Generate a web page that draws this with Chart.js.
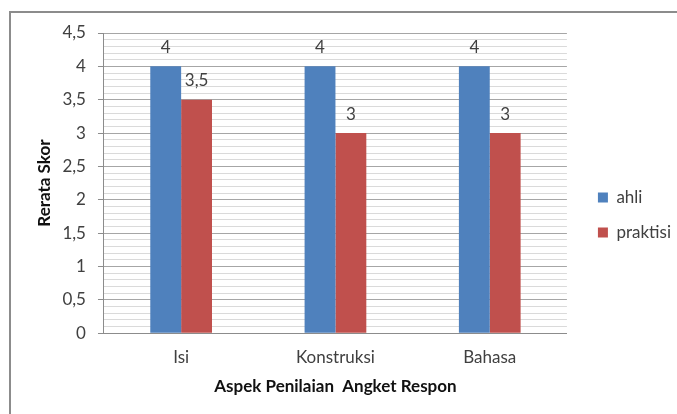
<!DOCTYPE html>
<html>
<head>
<meta charset="utf-8">
<script src="https://cdn.jsdelivr.net/npm/chart.js@4.4.1/dist/chart.umd.min.js"></script>
<style>
  html, body { margin: 0; padding: 0; background: #fff; overflow: hidden; }
  #wrap { position: relative; width: 677px; height: 414px; overflow: hidden; }
  #frame { position: absolute; left: 9px; top: 11px; width: 700px; height: 450px;
           border-left: 2px solid #8c8c8c; border-top: 2px solid #8c8c8c; box-sizing: border-box; }
  canvas { position: absolute; left: 0; top: 0; }
</style>
</head>
<body>
<div id="wrap">
  <div id="frame"></div>
  <canvas id="grafico" width="677" height="414"></canvas>
</div>
<script>
const aspek = ['Isi', 'Konstruksi', 'Bahasa'];
const skorAhli = [4, 4, 4];
const skorPraktisi = [3.5, 3, 3];
const FUENTE = 'Lato, "Open Sans", sans-serif';

function esMayor(v) { return Math.abs(v * 2 - Math.round(v * 2)) < 1e-6; }
function formato(v) { return String(Math.round(v * 10) / 10).replace('.', ','); }

const etiquetasBarras = {
    id: 'etiquetasBarras',
    afterDatasetsDraw(chart) {
        const ctx = chart.ctx;
        ctx.save();
        ctx.font = '17px ' + FUENTE;
        ctx.fillStyle = '#404040';
        ctx.textAlign = 'center';
        ctx.textBaseline = 'middle';
        chart.data.datasets.forEach((ds, i) => {
            chart.getDatasetMeta(i).data.forEach((bar, j) => {
                ctx.fillText(formato(ds.data[j]), bar.x, bar.y - 19);
            });
        });
        ctx.restore();
    }
};

new Chart(document.getElementById('grafico').getContext('2d'), {
    type: 'bar',
    data: {
        labels: aspek,
        datasets: [
            { label: 'ahli', data: skorAhli, backgroundColor: '#4F81BD' },
            { label: 'praktisi', data: skorPraktisi, backgroundColor: '#C0504D' }
        ]
    },
    options: {
        responsive: false,
        animation: false,
        layout: { padding: { left: 28, top: 33, right: -4, bottom: 17 } },
        datasets: { bar: { categoryPercentage: 0.4, barPercentage: 1 } },
        plugins: {
            tooltip: { enabled: false },
            legend: {
                position: 'right',
                labels: { boxWidth: 10, boxHeight: 10, padding: 18, color: '#404040', font: { family: FUENTE, size: 17 } }
            }
        },
        scales: {
            x: {
                grid: { display: false, drawTicks: false },
                border: { display: true, color: '#8c8c8c', width: 1 },
                ticks: { color: '#404040', padding: 14, font: { family: FUENTE, size: 17 } },
                title: { display: true, text: 'Aspek Penilaian  Angket Respon', color: '#111',
                         font: { family: FUENTE, size: 17, weight: 'bold' }, padding: { top: -5, bottom: 0 } }
            },
            y: {
                min: 0, max: 4.5,
                border: { display: true, color: '#8c8c8c', width: 1 },
                grid: {
                    color: c => esMayor(c.tick.value) ? '#a6a6a6' : '#dadada',
                    tickColor: c => esMayor(c.tick.value) ? '#8c8c8c' : 'rgba(0,0,0,0)',
                    tickLength: 6
                },
                ticks: {
                    stepSize: 0.1, autoSkip: false, color: '#404040', padding: 12,
                    font: { family: FUENTE, size: 17 },
                    callback: v => esMayor(v) ? formato(v) : ''
                },
                title: { display: true, text: 'Rerata Skor', color: '#111',
                         font: { family: FUENTE, size: 17, weight: 'bold' }, padding: { top: 6, bottom: -4 } }
            },
            // espacio vacío entre el área del gráfico y la leyenda
            hueco: {
                type: 'linear', position: 'right', display: true,
                grid: { display: false }, border: { display: false }, ticks: { display: false },
                afterFit: s => { s.width = 13; }
            }
        }
    },
    plugins: [etiquetasBarras]
});
</script>
</body>
</html>
